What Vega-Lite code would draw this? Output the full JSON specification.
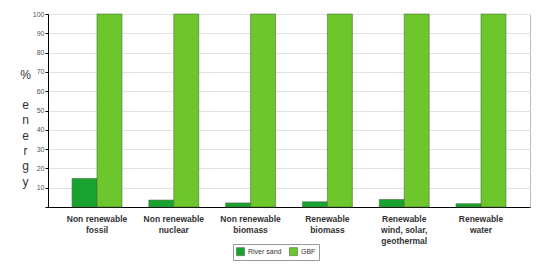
{
  "$schema": "https://vega.github.io/schema/vega-lite/v6.json",
  "width": 482,
  "height": 193,
  "autosize": {"type": "none"},
  "padding": {"left": 48, "top": 14, "right": 20, "bottom": 64},
  "background": "white",
  "data": {
    "values": [
      {"source": "Non renewable|fossil", "series": "River sand", "value": 14.8},
      {"source": "Non renewable|fossil", "series": "GBF", "value": 100},
      {"source": "Non renewable|nuclear", "series": "River sand", "value": 3.6},
      {"source": "Non renewable|nuclear", "series": "GBF", "value": 100},
      {"source": "Non renewable|biomass", "series": "River sand", "value": 2.1},
      {"source": "Non renewable|biomass", "series": "GBF", "value": 100},
      {"source": "Renewable|biomass", "series": "River sand", "value": 2.7},
      {"source": "Renewable|biomass", "series": "GBF", "value": 100},
      {"source": "Renewable|wind, solar,|geothermal", "series": "River sand", "value": 3.9},
      {"source": "Renewable|wind, solar,|geothermal", "series": "GBF", "value": 100},
      {"source": "Renewable|water", "series": "River sand", "value": 1.7},
      {"source": "Renewable|water", "series": "GBF", "value": 100}
    ]
  },
  "mark": {"type": "bar", "stroke": "#4d6b3a", "strokeWidth": 0.6},
  "encoding": {
    "x": {
      "field": "source",
      "type": "nominal",
      "sort": null,
      "scale": {"paddingInner": 0.35, "paddingOuter": 0.313},
      "axis": {
        "title": null,
        "labelAngle": 0,
        "labelExpr": "split(datum.value, '|')",
        "labelFont": "Liberation Sans",
        "labelFontWeight": "bold",
        "labelFontSize": 8.5,
        "labelColor": "#333333",
        "labelLineHeight": 11,
        "labelPadding": 7,
        "labelBaseline": "top",
        "ticks": false,
        "domainColor": "#000000",
        "domainWidth": 1
      }
    },
    "xOffset": {"field": "series", "type": "nominal", "sort": ["River sand", "GBF"], "scale": {"paddingInner": 0, "paddingOuter": 0}},
    "y": {
      "field": "value",
      "type": "quantitative",
      "scale": {"domain": [0, 100], "nice": false},
      "axis": {
        "title": ["%", "\u200b", "e", "n", "e", "r", "g", "y"],
        "titleAngle": 0,
        "titleX": -23,
        "titleY": 55,
        "titleAlign": "center",
        "titleBaseline": "top",
        "titleFont": "Liberation Sans",
        "titleFontWeight": "normal",
        "titleFontSize": 12,
        "titleColor": "#333333",
        "titleLineHeight": 15.3,
        "values": [0, 10, 20, 30, 40, 50, 60, 70, 80, 90, 100],
        "labelExpr": "datum.value == 0 ? '' : datum.label",
        "labelFont": "Liberation Sans",
        "labelFontSize": 7,
        "labelColor": "#555555",
        "labelPadding": 1,
        "tickSize": 3,
        "tickColor": "#000000",
        "domainColor": "#000000",
        "domainWidth": 1,
        "gridColor": "#e2e2e2",
        "gridWidth": 1
      }
    },
    "color": {
      "field": "series",
      "type": "nominal",
      "sort": ["River sand", "GBF"],
      "scale": {"domain": ["River sand", "GBF"], "range": ["#18a331", "#6cc62c"]},
      "legend": {
        "title": null,
        "orient": "none",
        "direction": "horizontal",
        "legendX": 185,
        "legendY": 230,
        "padding": 3,
        "strokeColor": "#999999",
        "symbolType": "square",
        "symbolSize": 64,
        "symbolStrokeColor": "#4d6b3a",
        "symbolStrokeWidth": 0.6,
        "symbolOpacity": 1,
        "labelFont": "Liberation Sans",
        "labelFontSize": 7,
        "labelColor": "#333333",
        "columnPadding": 6,
        "labelOffset": 3
      }
    }
  },
  "config": {
    "view": {"stroke": "#bbbbbb", "strokeWidth": 1}
  }
}
